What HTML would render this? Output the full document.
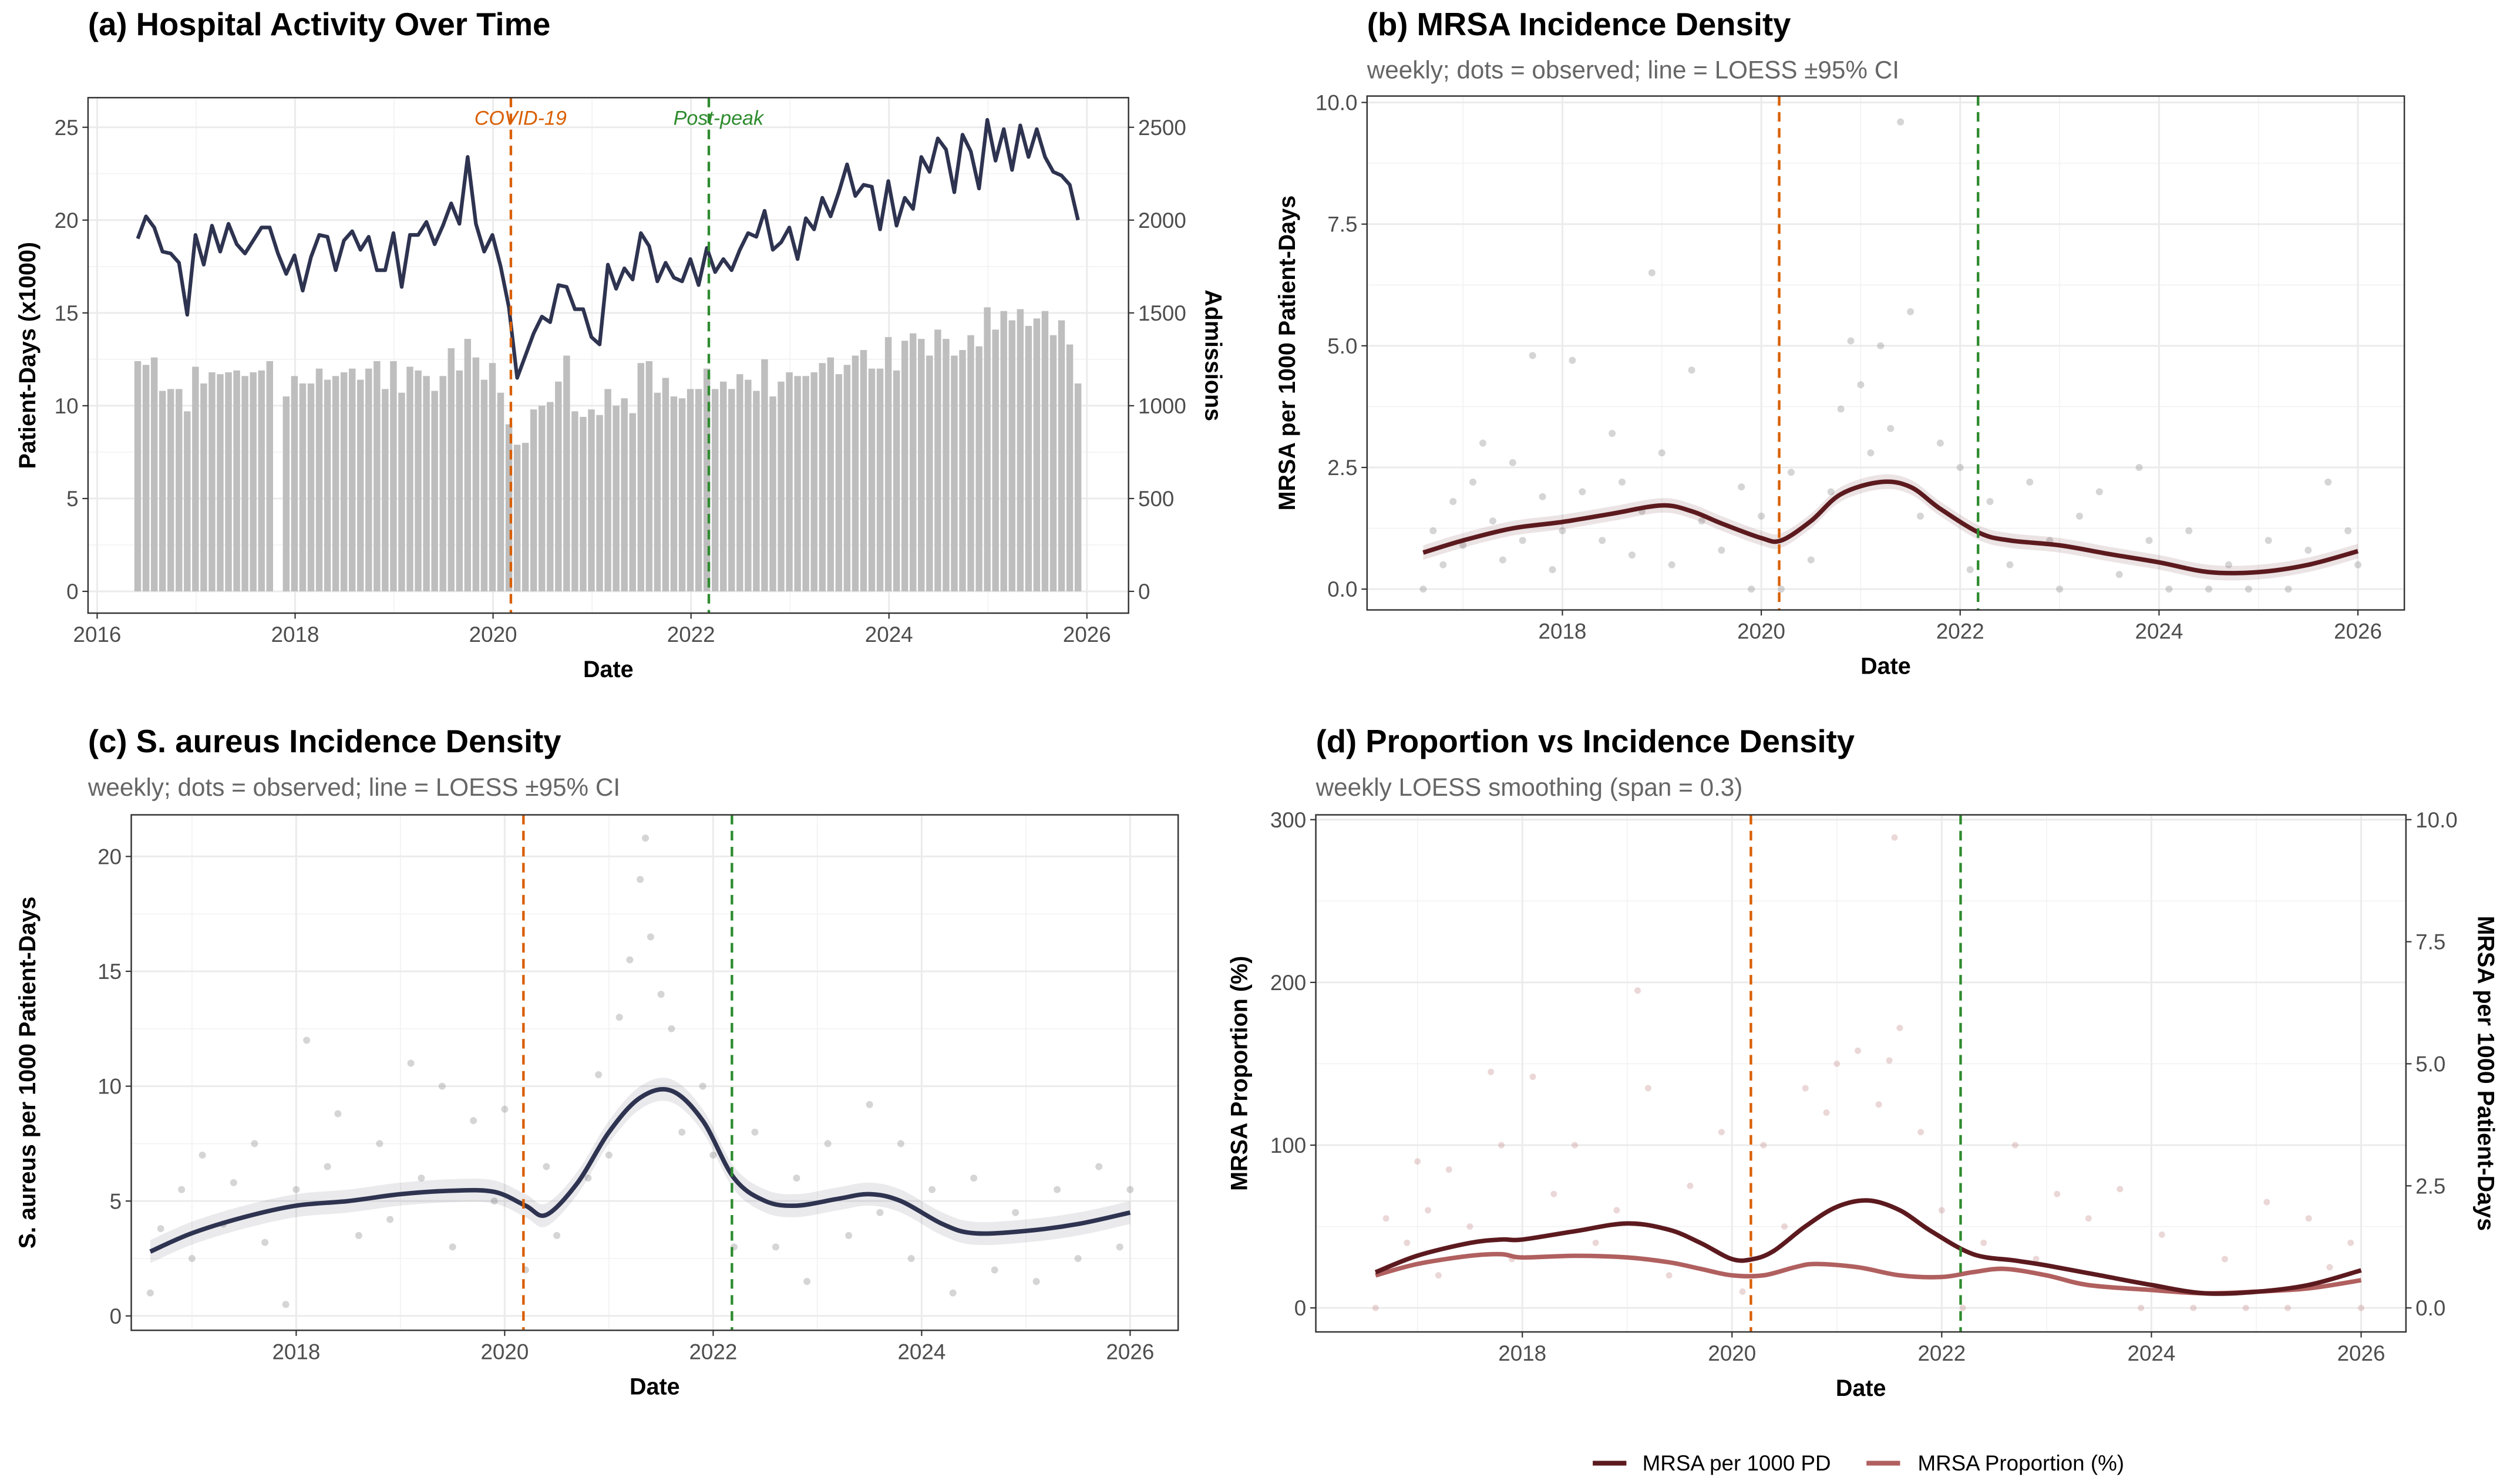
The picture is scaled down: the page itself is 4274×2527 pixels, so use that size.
<!DOCTYPE html>
<html><head><meta charset="utf-8"><style>
html,body{margin:0;padding:0;background:#fff;}
svg{display:block;font-family:"Liberation Sans",sans-serif;}
</style></head><body>
<svg id="fig" xmlns="http://www.w3.org/2000/svg" width="4274" height="2527" viewBox="0 0 1568 927" preserveAspectRatio="none"></svg>
<script>
// ---------- DATA ----------
const aStart = 2016.41;
const patientDays = [19.0,20.2,19.6,18.3,18.2,17.7,14.9,19.2,17.6,19.7,18.3,19.8,18.7,18.2,18.9,19.6,19.6,18.2,17.1,18.1,16.2,18.0,19.2,19.1,17.3,18.9,19.4,18.4,19.1,17.3,17.3,19.3,16.4,19.2,19.2,19.9,18.7,19.7,20.9,19.8,23.4,19.8,18.3,19.2,17.5,15.3,11.5,12.7,13.9,14.8,14.5,16.5,16.4,15.2,15.2,13.7,13.3,17.6,16.3,17.4,16.8,19.3,18.6,16.7,17.7,16.9,16.7,17.9,16.5,18.5,17.2,17.9,17.3,18.4,19.3,19.1,20.5,18.4,18.8,19.6,17.9,20.1,19.5,21.2,20.2,21.5,23.0,21.3,21.9,21.8,19.5,22.1,19.7,21.2,20.6,23.4,22.6,24.4,23.8,21.5,24.6,23.7,21.7,25.4,23.2,24.9,22.7,25.1,23.4,24.9,23.4,22.6,22.4,21.9,20.0];
const admissions = [1240,1220,1260,1080,1090,1090,970,1210,1120,1180,1170,1180,1190,1160,1180,1190,1240,null,1050,1160,1120,1120,1200,1140,1160,1180,1200,1140,1200,1240,1090,1240,1070,1210,1190,1160,1080,1160,1310,1190,1360,1260,1140,1230,1070,900,790,800,980,1000,1020,1130,1270,970,940,980,950,1090,1000,1040,960,1230,1240,1070,1150,1050,1040,1090,1090,1200,1090,1130,1090,1170,1140,1080,1250,1050,1130,1180,1160,1160,1180,1230,1260,1170,1220,1270,1300,1200,1200,1370,1190,1350,1390,1360,1270,1410,1360,1270,1300,1380,1320,1530,1410,1510,1460,1520,1430,1470,1510,1380,1460,1330,1120];

const bYears = [2016.6,2017,2017.5,2018,2018.5,2019,2019.3,2019.6,2020,2020.2,2020.5,2020.8,2021.2,2021.5,2021.8,2022.2,2022.5,2023,2023.5,2024,2024.5,2025,2025.5,2026];
const bLoess = [0.75,1.0,1.25,1.38,1.55,1.72,1.6,1.35,1.05,1.0,1.4,1.95,2.2,2.1,1.65,1.15,1.0,0.9,0.72,0.55,0.35,0.35,0.5,0.78];
const bDots = [[2016.6,0],[2016.7,1.2],[2016.8,0.5],[2016.9,1.8],[2017.0,0.9],[2017.1,2.2],[2017.2,3.0],[2017.3,1.4],[2017.4,0.6],[2017.5,2.6],[2017.6,1.0],[2017.7,4.8],[2017.8,1.9],[2017.9,0.4],[2018.0,1.2],[2018.1,4.7],[2018.2,2.0],[2018.4,1.0],[2018.5,3.2],[2018.6,2.2],[2018.7,0.7],[2018.8,1.6],[2018.9,6.5],[2019.0,2.8],[2019.1,0.5],[2019.3,4.5],[2019.4,1.4],[2019.6,0.8],[2019.8,2.1],[2019.9,0],[2020.0,1.5],[2020.2,0],[2020.3,2.4],[2020.5,0.6],[2020.7,2.0],[2020.8,3.7],[2020.9,5.1],[2021.0,4.2],[2021.1,2.8],[2021.2,5.0],[2021.3,3.3],[2021.4,9.6],[2021.5,5.7],[2021.6,1.5],[2021.8,3.0],[2022.0,2.5],[2022.1,0.4],[2022.3,1.8],[2022.5,0.5],[2022.7,2.2],[2022.9,1.0],[2023.0,0],[2023.2,1.5],[2023.4,2.0],[2023.6,0.3],[2023.8,2.5],[2023.9,1.0],[2024.1,0],[2024.3,1.2],[2024.5,0],[2024.7,0.5],[2024.9,0],[2025.1,1.0],[2025.3,0],[2025.5,0.8],[2025.7,2.2],[2025.9,1.2],[2026.0,0.5]];

const cYears = [2016.6,2017,2017.5,2018,2018.5,2019,2019.5,2019.9,2020.2,2020.4,2020.7,2021,2021.3,2021.6,2021.9,2022.2,2022.5,2022.8,2023.2,2023.5,2023.8,2024.2,2024.5,2025,2025.5,2026];
const cLoess = [2.8,3.6,4.3,4.8,5.0,5.3,5.45,5.4,4.8,4.4,5.8,8.0,9.5,9.8,8.5,6.0,5.0,4.8,5.1,5.3,5.0,4.0,3.6,3.7,4.0,4.5];
const cDots = [[2016.6,1.0],[2016.7,3.8],[2016.9,5.5],[2017.0,2.5],[2017.1,7.0],[2017.3,4.0],[2017.4,5.8],[2017.6,7.5],[2017.7,3.2],[2017.9,0.5],[2018.0,5.5],[2018.1,12.0],[2018.3,6.5],[2018.4,8.8],[2018.6,3.5],[2018.8,7.5],[2018.9,4.2],[2019.1,11.0],[2019.2,6.0],[2019.4,10.0],[2019.5,3.0],[2019.7,8.5],[2019.9,5.0],[2020.0,9.0],[2020.2,2.0],[2020.4,6.5],[2020.5,3.5],[2020.8,6.0],[2020.9,10.5],[2021.0,7.0],[2021.1,13.0],[2021.2,15.5],[2021.3,19.0],[2021.35,20.8],[2021.4,16.5],[2021.5,14.0],[2021.6,12.5],[2021.7,8.0],[2021.9,10.0],[2022.0,7.0],[2022.2,3.0],[2022.4,8.0],[2022.6,3.0],[2022.8,6.0],[2022.9,1.5],[2023.1,7.5],[2023.3,3.5],[2023.5,9.2],[2023.6,4.5],[2023.8,7.5],[2023.9,2.5],[2024.1,5.5],[2024.3,1.0],[2024.5,6.0],[2024.7,2.0],[2024.9,4.5],[2025.1,1.5],[2025.3,5.5],[2025.5,2.5],[2025.7,6.5],[2025.9,3.0],[2026.0,5.5]];

const dYearsDark = [2016.6,2017,2017.5,2017.8,2018,2018.5,2019,2019.4,2019.7,2020,2020.2,2020.4,2020.7,2021,2021.3,2021.6,2021.9,2022.3,2022.7,2023,2023.5,2024,2024.5,2025,2025.5,2026];
const dDark = [0.73,1.07,1.33,1.4,1.4,1.57,1.73,1.6,1.33,1.0,1.0,1.17,1.67,2.07,2.2,2.0,1.57,1.1,0.97,0.87,0.67,0.47,0.3,0.33,0.47,0.77];
const dYearsLight = [2016.6,2017,2017.5,2017.8,2018,2018.5,2019,2019.4,2019.7,2020,2020.3,2020.6,2020.8,2021.2,2021.6,2022,2022.3,2022.6,2023,2023.4,2024,2024.5,2025,2025.5,2026];
const dLight = [20,27,32,33,31,32,31,28,24,20,20,25,27,25,20,19,22,24,20,14,11,9,10,12,17];
const dDots = [[2016.6,0],[2016.7,55],[2016.9,40],[2017.0,90],[2017.1,60],[2017.2,20],[2017.3,85],[2017.5,50],[2017.7,145],[2017.8,100],[2017.9,30],[2018.1,142],[2018.3,70],[2018.5,100],[2018.7,40],[2018.9,60],[2019.1,195],[2019.2,135],[2019.4,20],[2019.6,75],[2019.9,108],[2020.1,10],[2020.3,100],[2020.5,50],[2020.7,135],[2020.9,120],[2021.0,150],[2021.2,158],[2021.4,125],[2021.5,152],[2021.55,289],[2021.6,172],[2021.8,108],[2022.0,60],[2022.2,0],[2022.4,40],[2022.7,100],[2022.9,30],[2023.1,70],[2023.4,55],[2023.7,73],[2023.9,0],[2024.1,45],[2024.4,0],[2024.7,30],[2024.9,0],[2025.1,65],[2025.3,0],[2025.5,55],[2025.7,25],[2025.9,40],[2026.0,0]];

const covidYear = 2020.18, postPeakYear = 2022.18;
const xTicksA = [2016,2018,2020,2022,2024,2026];
const xTicksB = [2018,2020,2022,2024,2026];

// ---------- DRAW ----------
const NS = "http://www.w3.org/2000/svg";
const svg = document.getElementById('fig');
const TICK = 13.5, TITLE = 20, SUB = 15.5, AXT = 14.5;
function el(tag, attrs, parent, text){
  const e = document.createElementNS(NS, tag);
  for (const k in attrs) e.setAttribute(k, attrs[k]);
  if (text !== undefined) e.textContent = text;
  (parent || svg).appendChild(e);
  return e;
}
function lin(d0,d1,r0,r1){ return v => r0 + (v-d0)*(r1-r0)/(d1-d0); }

function frame(p){
  const g = el('g', {});
  
  
  for (const m of p.xMinor) el('line',{x1:p.x(m),x2:p.x(m),y1:p.top,y2:p.bottom,stroke:'#f2f2f2','stroke-width':0.6},g);
  for (const m of p.yMinor) el('line',{x1:p.left,x2:p.right,y1:p.y(m),y2:p.y(m),stroke:'#f2f2f2','stroke-width':0.6},g);
  for (const t of p.xTicks) el('line',{x1:p.x(t),x2:p.x(t),y1:p.top,y2:p.bottom,stroke:'#ebebeb','stroke-width':1.1},g);
  for (const t of p.yTicks) el('line',{x1:p.left,x2:p.right,y1:p.y(t),y2:p.y(t),stroke:'#ebebeb','stroke-width':1.1},g);
  const xl = el('g',{},g);
  
  
  for (const t of p.xTicks){
    el('line',{x1:p.x(t),x2:p.x(t),y1:p.bottom,y2:p.bottom+3.5,stroke:'#333','stroke-width':0.8},xl);
    el('text',{x:p.x(t),y:p.bottom+18,'text-anchor':'middle','font-size':TICK,fill:'#4d4d4d'},xl,String(t));
  }
  const yl = el('g',{},g);
  
  
  p.yTicks.forEach((t,i)=>{
    el('line',{x1:p.left-3.5,x2:p.left,y1:p.y(t),y2:p.y(t),stroke:'#333','stroke-width':0.8},yl);
    el('text',{x:p.left-6,y:p.y(t)+4.8,'text-anchor':'end','font-size':TICK,fill:'#4d4d4d'},yl,p.yLabels[i]);
  });
  if (p.rLabels){
    const rl = el('g',{},g);
    
    
    p.yTicks.forEach((t,i)=>{
      el('line',{x1:p.right,x2:p.right+3.5,y1:p.y(t),y2:p.y(t),stroke:'#333','stroke-width':0.8},rl);
      el('text',{x:p.right+6,y:p.y(t)+4.8,'font-size':TICK,fill:'#4d4d4d'},rl,p.rLabels[i]);
    });
    const rt = el('text',{transform:`translate(${p.rTitleX},${(p.top+p.bottom)/2}) rotate(90)`,'text-anchor':'middle','font-size':AXT,'font-weight':'bold',fill:'#000'},g,p.rTitle);
    
    
  }
  const tt = el('text',{x:p.titleX,y:p.titleY,'font-size':TITLE,'font-weight':'bold',fill:'#000'},g,p.title);
  
  
  if (p.subtitle){
    const st = el('text',{x:p.titleX,y:p.titleY+27,'font-size':SUB,fill:'#666'},g,p.subtitle);
    
    
  }
  const xt = el('text',{x:(p.left+p.right)/2,y:p.bottom+40,'text-anchor':'middle','font-size':AXT,'font-weight':'bold'},g,'Date');
  
  
  const yt = el('text',{transform:`translate(${p.yTitleX},${(p.top+p.bottom)/2}) rotate(-90)`,'text-anchor':'middle','font-size':AXT,'font-weight':'bold'},g,p.yTitle);
  
  
  return g;
}
function finish(p,g){
  const c = el('line',{x1:p.x(covidYear),x2:p.x(covidYear),y1:p.top,y2:p.bottom,stroke:'#d95f02','stroke-width':1.6,'stroke-dasharray':'6,4'},g);
  
  
  const pp = el('line',{x1:p.x(postPeakYear),x2:p.x(postPeakYear),y1:p.top,y2:p.bottom,stroke:'#2e8b2e','stroke-width':1.6,'stroke-dasharray':'6,4'},g);
  
  
  el('rect',{x:p.left,y:p.top,width:p.right-p.left,height:p.bottom-p.top,fill:'none',stroke:'#333','stroke-width':0.9},g);
}
function path(xs, ys, x, y){ return xs.map((v,i)=>(i?'L':'M')+x(v).toFixed(2)+','+y(ys[i]).toFixed(2)).join(''); }
function smoothPath(xs, ys, x, y){
  const pts = xs.map((v,i)=>[x(v),y(ys[i])]);
  let d = 'M'+pts[0][0]+','+pts[0][1];
  for (let i=0;i<pts.length-1;i++){
    const p0=pts[Math.max(0,i-1)],p1=pts[i],p2=pts[i+1],p3=pts[Math.min(pts.length-1,i+2)];
    const c1=[p1[0]+(p2[0]-p0[0])/6,p1[1]+(p2[1]-p0[1])/6], c2=[p2[0]-(p3[0]-p1[0])/6,p2[1]-(p3[1]-p1[1])/6];
    d += `C${c1[0]},${c1[1]} ${c2[0]},${c2[1]} ${p2[0]},${p2[1]}`;
  }
  return d;
}
function band(xs, ys, w, x, y){
  const up = smoothPath(xs, ys.map(v=>v+w), x, y);
  const rx = xs.slice().reverse(), ry = ys.slice().reverse().map(v=>v-w);
  return up + smoothPath(rx, ry, x, y).replace('M','L') + 'Z';
}

// ----- Panel A -----
const A = {name:'panel-a', left:55, right:705, top:61, bottom:383,
  x:lin(2016,2026,60.7,679), y:lin(0,25,369.4,79.5),
  xTicks:xTicksA, xMinor:[2017,2019,2021,2023,2025], yTicks:[0,5,10,15,20,25], yMinor:[2.5,7.5,12.5,17.5,22.5],
  yLabels:['0','5','10','15','20','25'], rLabels:['0','500','1000','1500','2000','2500'],
  title:'(a) Hospital Activity Over Time', titleX:55, titleY:22,
  yTitle:'Patient-Days (x1000)', yTitleX:22, rTitle:'Admissions', rTitleX:753};
const gA = frame(A);
const barsG = el('g',{},gA);


admissions.forEach((v,i)=>{
  if (v===null) return;
  const t = aStart + i/12, cx = A.x(t), yv = A.y(v/100);
  const r = el('rect',{x:cx-2.1,y:yv,width:4.2,height:A.y(0)-yv,fill:'#bebebe'},barsG);
  
  
});
const pdYears = patientDays.map((v,i)=>aStart+i/12);
const pdLine = el('path',{d:path(pdYears,patientDays,A.x,A.y),fill:'none',stroke:'#2e3350','stroke-width':2.3,'stroke-linejoin':'round'},gA);


finish(A,gA);
const ct = el('text',{x:A.x(covidYear)+6,y:78,'text-anchor':'middle','font-size':12.5,'font-style':'italic',fill:'#d95f02'},gA,'COVID-19');


const pt = el('text',{x:A.x(postPeakYear)+6,y:78,'text-anchor':'middle','font-size':12.5,'font-style':'italic',fill:'#2e8b2e'},gA,'Post-peak');



// ----- Panel B -----
const B = {name:'panel-b', left:854, right:1502, top:60, bottom:381,
  x:lin(2016,2026,851.8,1473), y:lin(0,10,368,64),
  xTicks:xTicksB, xMinor:[2017,2019,2021,2023,2025], yTicks:[0,2.5,5,7.5,10], yMinor:[1.25,3.75,6.25,8.75],
  yLabels:['0.0','2.5','5.0','7.5','10.0'],
  title:'(b) MRSA Incidence Density', subtitle:'weekly; dots = observed; line = LOESS ±95% CI', titleX:854, titleY:22,
  yTitle:'MRSA per 1000 Patient-Days', yTitleX:809};
const gB = frame(B);
const dotsB = el('g',{},gB);


bDots.forEach(d=>{ const c=el('circle',{cx:B.x(d[0]),cy:B.y(d[1]),r:2.2,fill:'#888','fill-opacity':0.35},dotsB);   });
const bBand = el('path',{d:band(bYears,bLoess,0.15,B.x,B.y),fill:'#5c1a1e','fill-opacity':0.12},gB);


const bLine = el('path',{d:smoothPath(bYears,bLoess,B.x,B.y),fill:'none',stroke:'#5c1a1e','stroke-width':2.8},gB);


finish(B,gB);

// ----- Panel C -----
const C = {name:'panel-c', left:82, right:736, top:509, bottom:831,
  x:lin(2016,2026,54.8,706), y:lin(0,20,822,535),
  xTicks:xTicksB, xMinor:[2017,2019,2021,2023,2025], yTicks:[0,5,10,15,20], yMinor:[2.5,7.5,12.5,17.5],
  yLabels:['0','5','10','15','20'],
  title:'(c) S. aureus Incidence Density', subtitle:'weekly; dots = observed; line = LOESS ±95% CI', titleX:55, titleY:470,
  yTitle:'S. aureus per 1000 Patient-Days', yTitleX:22};
const gC = frame(C);
const dotsC = el('g',{},gC);


cDots.forEach(d=>{ const c=el('circle',{cx:C.x(d[0]),cy:C.y(d[1]),r:2.2,fill:'#888','fill-opacity':0.35},dotsC);   });
const cBand = el('path',{d:band(cYears,cLoess,0.5,C.x,C.y),fill:'#2e3350','fill-opacity':0.1},gC);


const cLine = el('path',{d:smoothPath(cYears,cLoess,C.x,C.y),fill:'none',stroke:'#2e3350','stroke-width':2.8},gC);


finish(C,gC);

// ----- Panel D -----
const D = {name:'panel-d', left:822, right:1503, top:509, bottom:832,
  x:lin(2016,2026,820,1475), y:lin(0,300,817,512),
  xTicks:xTicksB, xMinor:[2017,2019,2021,2023,2025], yTicks:[0,100,200,300], yMinor:[50,150,250],
  yLabels:['0','100','200','300'], rLabels:['0.0','2.5','5.0','7.5','10.0'],
  title:'(d) Proportion vs Incidence Density', subtitle:'weekly LOESS smoothing (span = 0.3)', titleX:822, titleY:470,
  yTitle:'MRSA Proportion (%)', yTitleX:779, rTitle:'MRSA per 1000 Patient-Days', rTitleX:1548};
const gD = frame(Object.assign({}, D, {rLabels:null}));
const yR = lin(0,10,817,512);
const rlD = el('g',{},gD);


[0,2.5,5,7.5,10].forEach((t,i)=>{
  el('line',{x1:D.right,x2:D.right+3.5,y1:yR(t),y2:yR(t),stroke:'#333','stroke-width':0.8},rlD);
  el('text',{x:D.right+6,y:yR(t)+4.8,'font-size':TICK,fill:'#4d4d4d'},rlD,D.rLabels[i]);
});
const rtD = el('text',{transform:`translate(${D.rTitleX},${(D.top+D.bottom)/2}) rotate(90)`,'text-anchor':'middle','font-size':AXT,'font-weight':'bold'},gD,D.rTitle);


const dotsD = el('g',{},gD);


dDots.forEach(d=>{ const c=el('circle',{cx:D.x(d[0]),cy:D.y(d[1]),r:2,fill:'#b0605f','fill-opacity':0.25},dotsD);   });
const dL = el('path',{d:smoothPath(dYearsLight,dLight,D.x,D.y),fill:'none',stroke:'#b0605f','stroke-width':2.8},gD);


const dD = el('path',{d:smoothPath(dYearsDark,dDark,D.x,yR),fill:'none',stroke:'#5c1a1e','stroke-width':2.8},gD);


finish(D,gD);

// legend
const lg = el('g',{});


const le1 = el('g',{},lg);


el('line',{x1:995,x2:1016,y1:914,y2:914,stroke:'#5c1a1e','stroke-width':3},le1);
el('text',{x:1026,y:918.5,'font-size':13.5,fill:'#000'},le1,'MRSA per 1000 PD');
const le2 = el('g',{},lg);


el('line',{x1:1166,x2:1187,y1:914,y2:914,stroke:'#b0605f','stroke-width':3},le2);
el('text',{x:1198,y:918.5,'font-size':13.5,fill:'#000'},le2,'MRSA Proportion (%)');
</script>
</body></html>
